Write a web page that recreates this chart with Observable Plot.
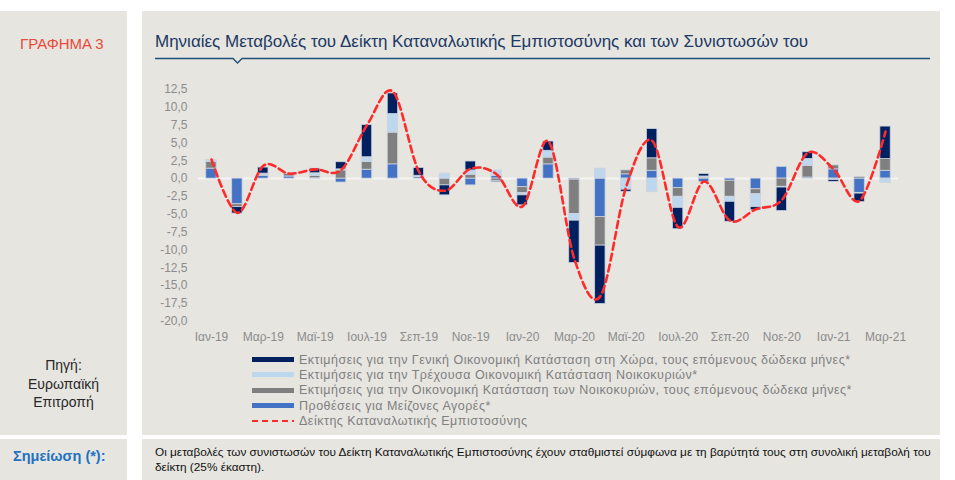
<!DOCTYPE html>
<html>
<head>
<meta charset="utf-8">
<script src="https://cdn.jsdelivr.net/npm/d3@7"></script>
<script src="https://cdn.jsdelivr.net/npm/@observablehq/plot@0.6"></script>
<style>
  html, body { margin: 0; padding: 0; background: #fff; }
  #page { position: relative; width: 955px; height: 480px; background: #fff; font-family: "Liberation Sans", Arial, sans-serif; overflow: hidden; }
  .panel { position: absolute; background: #e6e5e0; }
  .abs { position: absolute; white-space: nowrap; }
  #legend { position: absolute; left: 252px; top: 352px; font-size: 12.5px; letter-spacing: 0.5px; color: #7f7f7f; }
  #legend .row { display: flex; align-items: center; height: 15.3px; }
  #legend .sw { width: 42px; height: 5px; margin-right: 5px; }
</style>
</head>
<body>
<div id="page">
  <div class="panel" style="left:0;top:11px;width:127px;height:424px"></div>
  <div class="panel" style="left:142px;top:11px;width:798px;height:424px"></div>
  <div class="panel" style="left:0;top:439px;width:127px;height:41px"></div>
  <div class="panel" style="left:142px;top:439px;width:798px;height:41px"></div>

  <div class="abs" style="left:20px;top:35px;font-size:15px;color:#e8493a">ΓΡΑΦΗΜΑ 3</div>
  <div class="abs" style="left:155px;top:32px;font-size:17px;color:#203864">Μηνιαίες Μεταβολές του Δείκτη Καταναλωτικής Εμπιστοσύνης και των Συνιστωσών του</div>
  <svg class="abs" style="left:0;top:0" width="955" height="70">
    <path d="M155,58.5 H233 L237.5,63 L242,58.5 H930" fill="none" stroke="#1f4e79" stroke-width="1.3"/>
  </svg>

  <div class="abs" style="left:0;width:127px;top:356px;text-align:center;font-size:14px;line-height:18.5px;color:#262626;white-space:normal">Πηγή:<br>Ευρωπαϊκή<br>Επιτροπή</div>

  <div class="abs" style="left:13px;top:448px;font-size:14.5px;font-weight:bold;color:#1f72c4">Σημείωση (*):</div>
  <div class="abs" style="left:155px;top:445px;width:785px;font-size:11.8px;line-height:15px;color:#111;white-space:normal">Οι μεταβολές των συνιστωσών του Δείκτη Καταναλωτικής Εμπιστοσύνης έχουν σταθμιστεί σύμφωνα με τη βαρύτητά τους στη συνολική μεταβολή του δείκτη (25% έκαστη).</div>

  <div id="chart" class="abs" style="left:143px;top:60px"></div>
  <div id="legend"></div>
</div>

<script>
// Months, January 2019 – March 2021
const months = [
  "Ιαν-19","Φεβ-19","Μαρ-19","Απρ-19","Μαϊ-19","Ιουν-19","Ιουλ-19","Αυγ-19","Σεπ-19","Οκτ-19","Νοε-19","Δεκ-19",
  "Ιαν-20","Φεβ-20","Μαρ-20","Απρ-20","Μαϊ-20","Ιουν-20","Ιουλ-20","Αυγ-20","Σεπ-20","Οκτ-20","Νοε-20","Δεκ-20",
  "Ιαν-21","Φεβ-21","Μαρ-21"
];

// Weighted monthly changes of each component
const generalSituation = [0, -0.9, 0.85, 0, 0.65, 1.0, 4.5, 2.9, 1.1, -1.4, 1.25, -0.15,
  -1.4, 1.3, -5.95, -8.2, -0.3, 4.1, -3.0, 0.35, -2.8, -0.45, -3.3, 0.95, -0.25, -1.2, 4.55];
const currentHousehold = [0.25, 0, 0.2, 0.05, 0.35, 0.15, 0.65, 2.6, 0.1, 0.7, 0.6, 0.8,
  -0.3, 0.95, -0.95, 1.4, -1.55, -1.9, -1.55, 0.15, -0.7, -1.8, -0.1, 0.95, -0.2, -0.1, -0.6];
const futureHousehold = [0.95, -0.4, 0.1, 0.4, 0.35, 1.15, 1.1, 4.45, 0.1, -0.95, 0.55, -0.35,
  -0.85, 0.95, -4.8, -4.0, 0.55, 1.75, -1.25, 0.15, -2.25, -0.7, -1.15, 1.65, 0.55, 0.2, 1.65];
const majorPurchases = [1.4, -3.6, 0.4, 0.3, 0.05, -0.55, 1.25, 2.0, 0.2, 0, -0.95, 0.35,
  -1.2, 2.0, -0.15, -5.4, 0.6, 1.1, -1.3, -0.5, -0.3, -1.5, 1.65, 0.15, 1.3, -2.0, 1.1];

// Monthly change of the Consumer Confidence Indicator
const confidenceIndex = [2.7, -4.8, 1.8, 0.7, 1.3, 1.2, 7.5, 12.2, 1.0, -1.7, 1.4, 0.6,
  -3.9, 5.2, -11.3, -16.5, -1.1, 5.3, -6.8, -0.4, -5.9, -4.3, -3.0, 3.6, 1.3, -3.1, 6.6];

// Series names (legend order) and colours
const nameGeneral = "Εκτιμήσεις για την Γενική Οικονομική Κατάσταση στη Χώρα, τους επόμενους δώδεκα μήνες*";
const nameCurrent = "Εκτιμήσεις για την Τρέχουσα Οικονομική Κατάσταση Νοικοκυριών*";
const nameFuture = "Εκτιμήσεις για την Οικονομική Κατάσταση των Νοικοκυριών, τους επόμενους δώδεκα μήνες*";
const namePurchases = "Προθέσεις για Μείζονες Αγορές*";
const nameIndex = "Δείκτης Καταναλωτικής Εμπιστοσύνης";

const legendNames = [nameGeneral, nameCurrent, nameFuture, namePurchases];
const legendColors = ["#002060", "#bdd7ee", "#7f7f7f", "#4472c4"];
const indexColor = "#ff2a2a";

// Stack order outward from zero: purchases, future household, current household, general
const stackSeries = [
  [namePurchases, majorPurchases],
  [nameFuture, futureHousehold],
  [nameCurrent, currentHousehold],
  [nameGeneral, generalSituation]
];
const bars = [];
months.forEach((m, i) => {
  for (const [name, values] of stackSeries) bars.push({month: m, series: name, value: values[i]});
});
const line = months.map((m, i) => ({month: m, value: confidenceIndex[i]}));

const chart = Plot.plot({
  width: 797,
  height: 300,
  marginLeft: 55,
  marginRight: 42,
  marginTop: 29,
  marginBottom: 39.3,
  style: {background: "transparent", fontFamily: "'Liberation Sans', Arial, sans-serif", fontSize: "12px", color: "#8c8c8c"},
  x: {
    domain: months,
    paddingInner: 0.6,
    paddingOuter: 0.3,
    round: false,
    tickSize: 0,
    tickPadding: 11,
    tickFormat: d => months.indexOf(d) % 2 === 0 ? d : "",
    label: null
  },
  y: {
    domain: [-20, 12.5],
    ticks: d3.range(-20, 12.51, 2.5),
    tickFormat: d => d.toFixed(1).replace(".", ","),
    tickSize: 0,
    tickPadding: 11,
    label: null
  },
  color: {domain: legendNames, range: legendColors},
  marks: [
    Plot.ruleY([0], {stroke: "#f4f4f2", strokeWidth: 2}),
    Plot.barY(bars, {x: "month", y: "value", fill: "series", stroke: "#cdd3dc", strokeWidth: 0.8}),
    Plot.lineY(line, {x: "month", y: "value", curve: "cardinal", stroke: indexColor, strokeWidth: 2.6, strokeDasharray: "7,4"})
  ]
});
document.getElementById("chart").appendChild(chart);

// Legend
const legend = document.getElementById("legend");
legendNames.forEach((name, i) => {
  const row = document.createElement("div");
  row.className = "row";
  row.innerHTML = `<div class="sw" style="background:${legendColors[i]}"></div><span>${name}</span>`;
  legend.appendChild(row);
});
const lineRow = document.createElement("div");
lineRow.className = "row";
lineRow.innerHTML = `<svg width="42" height="6" style="margin-right:5px"><line x1="0" y1="3" x2="42" y2="3" stroke="${indexColor}" stroke-width="2" stroke-dasharray="6,4"/></svg><span>${nameIndex}</span>`;
legend.appendChild(lineRow);
</script>
</body>
</html>
